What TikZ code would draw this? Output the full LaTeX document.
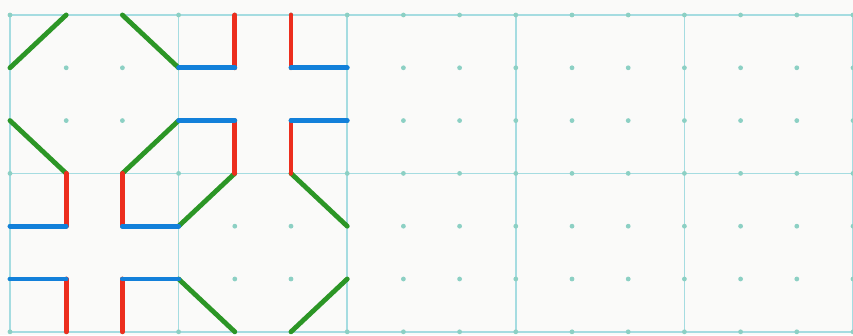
\documentclass[tikz,border=0pt]{standalone}
\usetikzlibrary{calc}
\definecolor{paper}{RGB}{250,250,249}
\definecolor{gridcyan}{RGB}{165,220,225}
\definecolor{dotteal}{RGB}{140,208,196}
\definecolor{octgreen}{RGB}{44,150,38}
\definecolor{crossblue}{RGB}{18,128,218}
\definecolor{crossred}{RGB}{236,46,30}
\tikzset{
  gridline/.style={draw=gridcyan, line width=1.3pt},
  griddot/.style={fill=dotteal},
  octline/.style={draw=octgreen, line width=3.6pt, line cap=round},
  blueline/.style={draw=crossblue, line width=3.6pt, line cap=round},
  redline/.style={draw=crossred, line width=3.6pt, line cap=round}
}
\begin{document}
\begin{tikzpicture}[x=42.15pt, y={(0pt,-39.6pt)}]
    % paper and frame of the picture
    \fill[paper] (-0.178,-0.284) rectangle (15.0,6.061);
    \useasboundingbox (-0.178,-0.284) rectangle (15.0,6.061);

    % --- SQUARE GRID (5 x 2 big squares) ---
    \foreach \i in {0,3,...,15} \draw[gridline] (\i,0) -- (\i,6);
    \foreach \j in {0,3,6} \draw[gridline] (0,\j) -- (15,\j);
    % dots at every third
    \foreach \i in {0,...,15}
      \foreach \j in {0,...,6}
        \fill[griddot] (\i,\j) circle (1.8pt);

    % --- OCTAGON, top left square ---
    \draw[octline] (0,1) -- (1,0);
    \draw[octline] (2,0) -- (3,1);
    \draw[octline] (0,2) -- (1,3);
    \draw[octline] (3,2) -- (2,3);

    % --- OCTAGON, bottom second square ---
    \draw[octline] (4,3) -- (3,4);
    \draw[octline] (5,3) -- (6,4);
    \draw[octline] (3,5) -- (4,6);
    \draw[octline] (6,5) -- (5,6);

    % --- CROSS, top second square ---
    \draw[redline] (4,0) -- (4,1);
    \draw[blueline] (3,1) -- (4,1);
    \draw[redline] (5,0) -- (5,1);
    \draw[blueline] (5,1) -- (6,1);
    \draw[redline] (4,2) -- (4,3);
    \draw[blueline] (3,2) -- (4,2);
    \draw[redline] (5,2) -- (5,3);
    \draw[blueline] (5,2) -- (6,2);

    % --- CROSS, bottom left square ---
    \draw[redline] (1,3) -- (1,4);
    \draw[blueline] (0,4) -- (1,4);
    \draw[redline] (2,3) -- (2,4);
    \draw[blueline] (2,4) -- (3,4);
    \draw[redline] (1,5) -- (1,6);
    \draw[blueline] (0,5) -- (1,5);
    \draw[redline] (2,5) -- (2,6);
    \draw[blueline] (2,5) -- (3,5);
\end{tikzpicture}
\end{document}
